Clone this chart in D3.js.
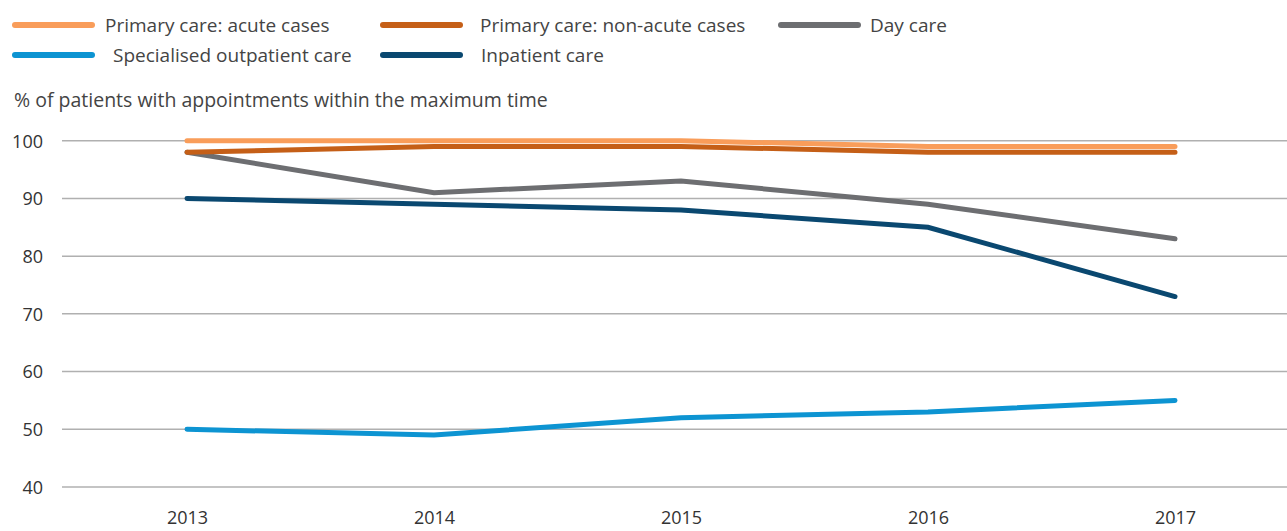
<!DOCTYPE html>
<html><head><meta charset="utf-8">
<script src="https://cdn.jsdelivr.net/npm/d3@7"></script>
<style>
body{margin:0;background:#fff;}
text{font-family:"Open Sans",sans-serif;}
</style></head>
<body><svg id="c" width="1287" height="531"></svg>
<script>
const years = ["2013","2014","2015","2016","2017"];
const yTicks = [40,50,60,70,80,90,100];
const acute = [100,100,100,99,99];
const nonAcute = [98,99,99,98,98];
const dayCare = [98,91,93,89,83];
const inpatient = [90,89,88,85,73];
const outpatient = [50,49,52,53,55];
const seriesNames = ["Primary care: acute cases","Primary care: non-acute cases","Day care","Specialised outpatient care","Inpatient care"];
const colors = ["#f99d5a","#c55f17","#6d6e71","#0d94d2","#0a4870"];
const seriesData = [acute,nonAcute,dayCare,outpatient,inpatient];
const title = "% of patients with appointments within the maximum time";

const svg = d3.select("#c");
const x = d3.scalePoint().domain(years).range([187,1175]);
const y = d3.scaleLinear().domain([40,100]).range([487,140.7]);

// grid
svg.append("g").selectAll("line").data(yTicks).join("line")
  .attr("x1",62).attr("x2",1287)
  .attr("y1",d=>y(d)).attr("y2",d=>y(d))
  .attr("stroke","#b0b0b0").attr("stroke-width",1.5);

const yAxis = svg.append("g").attr("transform","translate(43,0)")
  .call(d3.axisLeft(y).tickValues(yTicks).tickSize(0).tickPadding(0));
yAxis.select(".domain").remove();
yAxis.selectAll("text").attr("font-size",18).attr("fill","#333").attr("font-family","Open Sans").attr("dy","0.35em");

const xAxis = svg.append("g").attr("transform","translate(0,508)")
  .call(d3.axisBottom(x).tickSize(0).tickPadding(0));
xAxis.select(".domain").remove();
xAxis.selectAll("text").attr("font-size",18).attr("fill","#333").attr("font-family","Open Sans").attr("dy","0.9em");

const line = d3.line().x((d,i)=>x(years[i])).y(d=>y(d));
// draw order: day care, inpatient, outpatient, non-acute, acute
const order = [2,4,3,1,0];
order.forEach(k=>{
  svg.append("path").datum(seriesData[k]).attr("d",line)
    .attr("fill","none").attr("stroke",colors[k]).attr("stroke-width",5)
    .attr("stroke-linecap","round").attr("stroke-linejoin","miter");
});

// legend
const legPos = [[12,25],[380,25],[778,25],[12,55],[380,55]];
const textX = [105,480,870,113,481];
seriesNames.forEach((n,i)=>{
  const [lx,ly]=legPos[i];
  svg.append("line").attr("x1",lx+3).attr("x2",lx+80).attr("y1",ly).attr("y2",ly)
    .attr("stroke",colors[i]).attr("stroke-width",6).attr("stroke-linecap","round");
  svg.append("text").attr("x",textX[i]).attr("y",ly).attr("dy","0.35em")
    .attr("font-size",19).attr("fill","#444").text(n);
});
svg.append("text").attr("x",14).attr("y",100).attr("dy","0.35em")
  .attr("font-size",19.5).attr("fill","#444").text(title);
</script></body></html>
